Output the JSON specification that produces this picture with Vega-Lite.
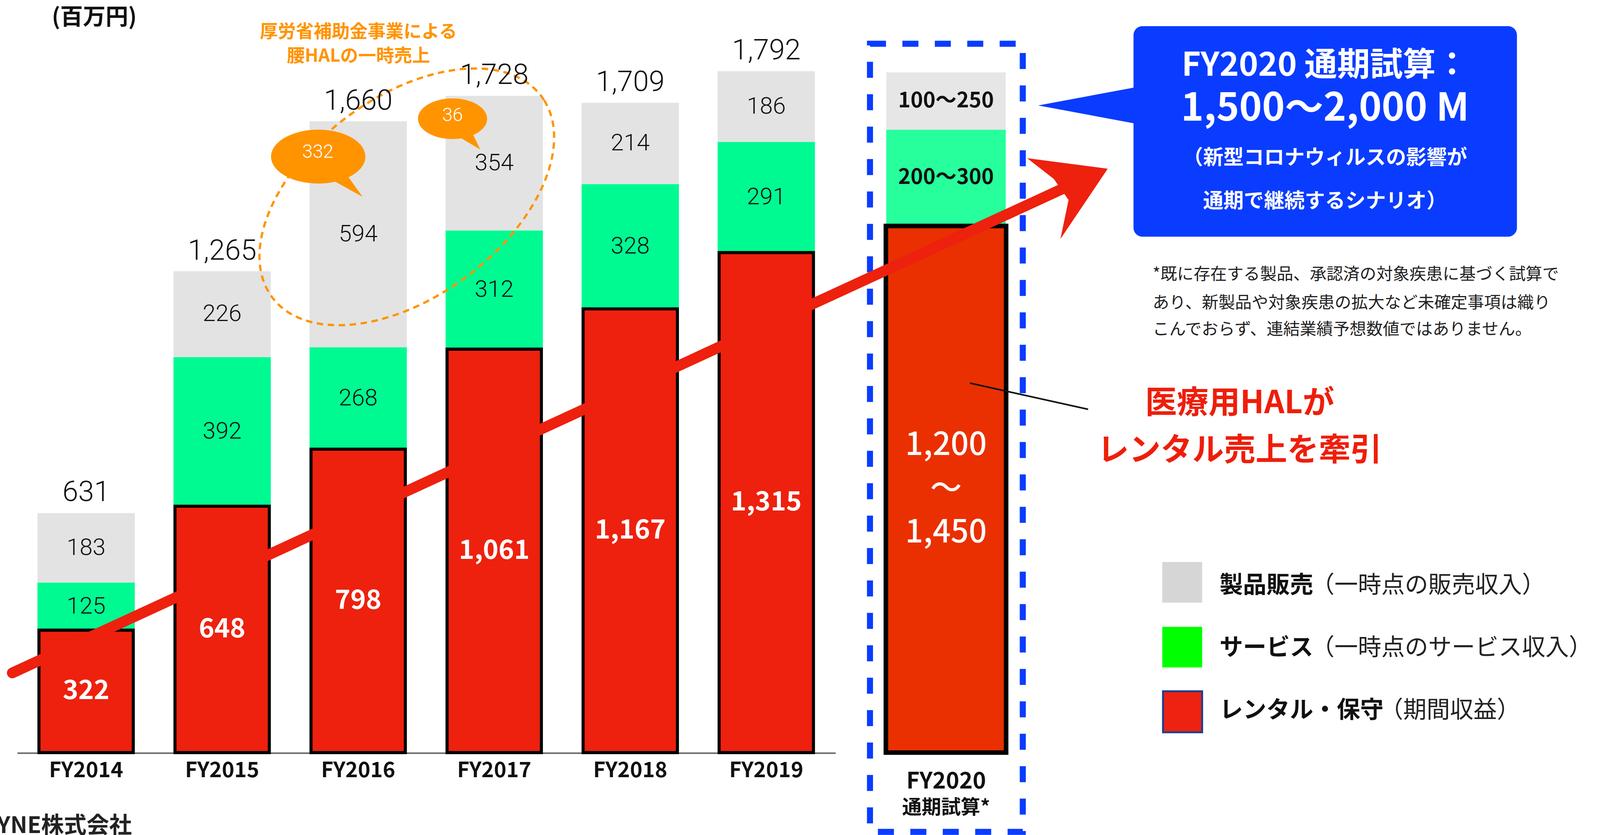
{
"$schema":"https://vega.github.io/schema/vega-lite/v6.json",
"width":4100,"height":2138,"autosize":{"type":"none"},"padding":0,"background":"white",
"config":{"view":{"stroke":null},"font":"Noto Sans CJK JP","axis":{"disable":true},"legend":{"disable":true}},
"datasets":{
"segments":[
{"fy":2014,"year":"FY2014","segment":"レンタル・保守","order":1,"value":322,"label":"322"},
{"fy":2014,"year":"FY2014","segment":"サービス","order":2,"value":125,"label":"125"},
{"fy":2014,"year":"FY2014","segment":"製品販売","order":3,"value":183,"label":"183"},
{"fy":2015,"year":"FY2015","segment":"レンタル・保守","order":1,"value":648,"label":"648"},
{"fy":2015,"year":"FY2015","segment":"サービス","order":2,"value":392,"label":"392"},
{"fy":2015,"year":"FY2015","segment":"製品販売","order":3,"value":226,"label":"226"},
{"fy":2016,"year":"FY2016","segment":"レンタル・保守","order":1,"value":798,"label":"798"},
{"fy":2016,"year":"FY2016","segment":"サービス","order":2,"value":268,"label":"268"},
{"fy":2016,"year":"FY2016","segment":"製品販売","order":3,"value":594,"label":"594"},
{"fy":2017,"year":"FY2017","segment":"レンタル・保守","order":1,"value":1061,"label":"1,061"},
{"fy":2017,"year":"FY2017","segment":"サービス","order":2,"value":312,"label":"312"},
{"fy":2017,"year":"FY2017","segment":"製品販売","order":3,"value":354,"label":"354"},
{"fy":2018,"year":"FY2018","segment":"レンタル・保守","order":1,"value":1167,"label":"1,167"},
{"fy":2018,"year":"FY2018","segment":"サービス","order":2,"value":328,"label":"328"},
{"fy":2018,"year":"FY2018","segment":"製品販売","order":3,"value":214,"label":"214"},
{"fy":2019,"year":"FY2019","segment":"レンタル・保守","order":1,"value":1315,"label":"1,315"},
{"fy":2019,"year":"FY2019","segment":"サービス","order":2,"value":291,"label":"291"},
{"fy":2019,"year":"FY2019","segment":"製品販売","order":3,"value":186,"label":"186"},
{"fy":2020,"year":"FY2020","segment":"レンタル・保守","order":1,"value":1385,"label":"1,200\n〜\n1,450"},
{"fy":2020,"year":"FY2020","segment":"サービス","order":2,"value":253,"label":"200〜300"},
{"fy":2020,"year":"FY2020","segment":"製品販売","order":3,"value":151,"label":"100〜250"}
],
"totals":[
{"fy":2014,"year":"FY2014","total":631},
{"fy":2015,"year":"FY2015","total":1265},
{"fy":2016,"year":"FY2016","total":1660},
{"fy":2017,"year":"FY2017","total":1728},
{"fy":2018,"year":"FY2018","total":1709},
{"fy":2019,"year":"FY2019","total":1792}
]
},
"layer":[
{"data":{"values":[{}]},"mark":{"type":"rule","color":"#6b6b6b","strokeWidth":4},
 "encoding":{"x":{"datum":2013.4953,"type":"quantitative","scale":{"domain":[2013.3814,2025.1258],"nice":false,"zero":false}},"x2":{"datum":2019.51},"y":{"datum":-1.5,"type":"quantitative","scale":{"domain":[-216.73,1979.27],"nice":false,"zero":false}}}},
{"data":{"values":[{}]},"mark":{"type":"rect","fill":"transparent","stroke":"#0A3CFF","strokeWidth":15.5,"strokeDash":[41,42]},
 "encoding":{"x":{"datum":2019.7623,"type":"quantitative","scale":{"domain":[2013.3814,2025.1258],"nice":false,"zero":false}},"x2":{"datum":2020.8855},"y":{"datum":1864.23,"type":"quantitative","scale":{"domain":[-216.73,1979.27],"nice":false,"zero":false}},"y2":{"datum":-208.51}}},
{"data":{"name":"segments"},
 "transform":[{"stack":"value","groupby":["fy"],"sort":[{"field":"order","order":"ascending"}],"as":["v0","v1"]},{"filter":"datum.fy < 2020 && datum.order === 3"}],
 "mark":{"type":"bar","width":249.1,"color":"#E3E3E3"},
 "encoding":{"x":{"field":"fy","type":"quantitative","scale":{"domain":[2013.3814,2025.1258],"nice":false,"zero":false}},"y":{"field":"v0","type":"quantitative","scale":{"domain":[-216.73,1979.27],"nice":false,"zero":false}},"y2":{"field":"v1"}}},
{"data":{"name":"segments"},
 "transform":[{"stack":"value","groupby":["fy"],"sort":[{"field":"order","order":"ascending"}],"as":["v0","v1"]},{"filter":"datum.fy < 2020 && datum.order === 2"}],
 "mark":{"type":"bar","width":249.1,"color":"#00FA92"},
 "encoding":{"x":{"field":"fy","type":"quantitative","scale":{"domain":[2013.3814,2025.1258],"nice":false,"zero":false}},"y":{"field":"v0","type":"quantitative","scale":{"domain":[-216.73,1979.27],"nice":false,"zero":false}},"y2":{"field":"v1"}}},
{"data":{"name":"segments"},
 "transform":[{"stack":"value","groupby":["fy"],"sort":[{"field":"order","order":"ascending"}],"as":["v0","v1"]},{"filter":"datum.fy < 2020 && datum.order === 1"}],
 "mark":{"type":"bar","width":241.5,"fill":"#ED210E","stroke":"#000000","strokeWidth":7.8,"strokeJoin":"miter"},
 "encoding":{"x":{"field":"fy","type":"quantitative","scale":{"domain":[2013.3814,2025.1258],"nice":false,"zero":false}},"y":{"field":"v0","type":"quantitative","scale":{"domain":[-216.73,1979.27],"nice":false,"zero":false}},"y2":{"field":"v1"}}},
{"data":{"name":"segments"},
 "transform":[{"stack":"value","groupby":["fy"],"sort":[{"field":"order","order":"ascending"}],"as":["v0","v1"]},{"filter":"datum.fy === 2020 && datum.order === 3"}],
 "mark":{"type":"bar","width":305.9,"xOffset":111.8,"color":"#E6E6E6"},
 "encoding":{"x":{"field":"fy","type":"quantitative","scale":{"domain":[2013.3814,2025.1258],"nice":false,"zero":false}},"y":{"field":"v0","type":"quantitative","scale":{"domain":[-216.73,1979.27],"nice":false,"zero":false}},"y2":{"field":"v1"}}},
{"data":{"name":"segments"},
 "transform":[{"stack":"value","groupby":["fy"],"sort":[{"field":"order","order":"ascending"}],"as":["v0","v1"]},{"filter":"datum.fy === 2020 && datum.order === 2"}],
 "mark":{"type":"bar","width":305.9,"xOffset":111.8,"color":"#26FF9C"},
 "encoding":{"x":{"field":"fy","type":"quantitative","scale":{"domain":[2013.3814,2025.1258],"nice":false,"zero":false}},"y":{"field":"v0","type":"quantitative","scale":{"domain":[-216.73,1979.27],"nice":false,"zero":false}},"y2":{"field":"v1"}}},
{"data":{"name":"segments"},
 "transform":[{"stack":"value","groupby":["fy"],"sort":[{"field":"order","order":"ascending"}],"as":["v0","v1"]},{"filter":"datum.fy === 2020 && datum.order === 1"}],
 "mark":{"type":"bar","width":307.8,"xOffset":111.8,"fill":"#EA3000","stroke":"#000000","strokeWidth":11.7,"strokeJoin":"miter"},
 "encoding":{"x":{"field":"fy","type":"quantitative","scale":{"domain":[2013.3814,2025.1258],"nice":false,"zero":false}},"y":{"field":"v0","type":"quantitative","scale":{"domain":[-216.73,1979.27],"nice":false,"zero":false}},"y2":{"field":"v1"}}},
{"data":{"values":[{}]},"mark":{"type":"point","shape":"M0.788,-0.5548 C0.9572,-0.2869 0.7415,0.1787 0.3063,0.4851 C-0.1289,0.7915 -0.6188,0.8227 -0.788,0.5548 C-0.9572,0.2869 -0.7415,-0.1787 -0.3063,-0.4851 C0.1289,-0.7915 0.6188,-0.8227 0.788,-0.5548 Z","size":795664,"filled":false,"stroke":"#FF9400","strokeWidth":5.8,"strokeDash":[16.5,11.7],"opacity":1},
 "encoding":{"x":{"datum":2016.3575,"type":"quantitative","scale":{"domain":[2013.3814,2025.1258],"nice":false,"zero":false}},"y":{"datum":1461.6,"type":"quantitative","scale":{"domain":[-216.73,1979.27],"nice":false,"zero":false}}}},
{"data":{"values":[{}]},"mark":{"type":"rule","color":"#ED210E","strokeWidth":27.5,"strokeCap":"round"},
 "encoding":{"x":{"datum":2013.4574,"type":"quantitative","scale":{"domain":[2013.3814,2025.1258],"nice":false,"zero":false}},"x2":{"datum":2021.1676},"y":{"datum":209.53,"type":"quantitative","scale":{"domain":[-216.73,1979.27],"nice":false,"zero":false}},"y2":{"datum":1481.11}}},
{"data":{"values":[{}]},"mark":{"type":"point","shape":"M0.86,-0.633 L-0.86,-0.858 L-0.292,-0.417 L0.024,0.033 L-0.15,0.867 Z","size":57600,"filled":true,"color":"#ED210E","opacity":1},
 "encoding":{"x":{"datum":2021.2138,"type":"quantitative","scale":{"domain":[2013.3814,2025.1258],"nice":false,"zero":false}},"y":{"datum":1457.49,"type":"quantitative","scale":{"domain":[-216.73,1979.27],"nice":false,"zero":false}}}},
{"data":{"name":"segments"},
 "transform":[{"stack":"value","groupby":["fy"],"sort":[{"field":"order","order":"ascending"}],"as":["v0","v1"]},{"fold":["v0","v1"],"as":["edge","pos"]},{"aggregate":[{"op":"mean","field":"pos","as":"mid"}],"groupby":["fy","order","label"]},{"filter":"datum.fy < 2020 && datum.order !== 1"}],
 "mark":{"type":"text","font":"Roboto","fontSize":60,"fontWeight":300,"color":"#111111","align":"center","baseline":"middle"},
 "encoding":{"x":{"field":"fy","type":"quantitative","scale":{"domain":[2013.3814,2025.1258],"nice":false,"zero":false}},"y":{"field":"mid","type":"quantitative","scale":{"domain":[-216.73,1979.27],"nice":false,"zero":false}},"text":{"field":"label"}}},
{"data":{"name":"segments"},
 "transform":[{"stack":"value","groupby":["fy"],"sort":[{"field":"order","order":"ascending"}],"as":["v0","v1"]},{"fold":["v0","v1"],"as":["edge","pos"]},{"aggregate":[{"op":"mean","field":"pos","as":"mid"}],"groupby":["fy","order","label"]},{"filter":"datum.fy < 2020 && datum.order === 1"}],
 "mark":{"type":"text","fontSize":67.5,"fontWeight":"bold","color":"#FFFFFF","align":"center","baseline":"middle"},
 "encoding":{"x":{"field":"fy","type":"quantitative","scale":{"domain":[2013.3814,2025.1258],"nice":false,"zero":false}},"y":{"field":"mid","type":"quantitative","scale":{"domain":[-216.73,1979.27],"nice":false,"zero":false}},"text":{"field":"label"}}},
{"data":{"name":"segments"},
 "transform":[{"stack":"value","groupby":["fy"],"sort":[{"field":"order","order":"ascending"}],"as":["v0","v1"]},{"fold":["v0","v1"],"as":["edge","pos"]},{"aggregate":[{"op":"mean","field":"pos","as":"mid"}],"groupby":["fy","order","label"]},{"filter":"datum.fy === 2020 && datum.order !== 1"}],
 "mark":{"type":"text","fontSize":54,"fontWeight":"bold","color":"#111111","align":"center","baseline":"middle","xOffset":111.8},
 "encoding":{"x":{"field":"fy","type":"quantitative","scale":{"domain":[2013.3814,2025.1258],"nice":false,"zero":false}},"y":{"field":"mid","type":"quantitative","scale":{"domain":[-216.73,1979.27],"nice":false,"zero":false}},"text":{"field":"label"}}},
{"data":{"name":"segments"},
 "transform":[{"stack":"value","groupby":["fy"],"sort":[{"field":"order","order":"ascending"}],"as":["v0","v1"]},{"fold":["v0","v1"],"as":["edge","pos"]},{"aggregate":[{"op":"mean","field":"pos","as":"mid"}],"groupby":["fy","order","label"]},{"filter":"datum.fy === 2020 && datum.order === 1"}],
 "mark":{"type":"text","fontSize":81,"fontWeight":500,"color":"#FFFFFF","align":"center","baseline":"middle","xOffset":111.8,"dy":-112,"lineBreak":"\n","lineHeight":112},
 "encoding":{"x":{"field":"fy","type":"quantitative","scale":{"domain":[2013.3814,2025.1258],"nice":false,"zero":false}},"y":{"field":"mid","type":"quantitative","scale":{"domain":[-216.73,1979.27],"nice":false,"zero":false}},"text":{"field":"label"}}},
{"data":{"name":"totals"},
 "mark":{"type":"text","font":"Roboto","fontSize":73,"fontWeight":300,"color":"#111111","align":"center","baseline":"alphabetic","dy":-30},
 "encoding":{"x":{"field":"fy","type":"quantitative","scale":{"domain":[2013.3814,2025.1258],"nice":false,"zero":false}},"y":{"field":"total","type":"quantitative","scale":{"domain":[-216.73,1979.27],"nice":false,"zero":false}},"text":{"field":"total","type":"quantitative","format":","}}},
{"data":{"name":"totals"},
 "mark":{"type":"text","fontSize":54,"fontWeight":"bold","color":"#111111","align":"center","baseline":"middle"},
 "encoding":{"x":{"field":"fy","type":"quantitative","scale":{"domain":[2013.3814,2025.1258],"nice":false,"zero":false}},"y":{"datum":-48.28,"type":"quantitative","scale":{"domain":[-216.73,1979.27],"nice":false,"zero":false}},"text":{"field":"year"}}},
{"data":{"values":[{}]},"mark":{"type":"text","text":"FY2020","fontSize":58,"fontWeight":"bold","color":"#111111","align":"center","baseline":"middle"},
 "encoding":{"x":{"datum":2020.3226,"type":"quantitative","scale":{"domain":[2013.3814,2025.1258],"nice":false,"zero":false}},"y":{"datum":-77,"type":"quantitative","scale":{"domain":[-216.73,1979.27],"nice":false,"zero":false}}}},
{"data":{"values":[{}]},"mark":{"type":"text","text":"通期試算*","fontSize":50,"fontWeight":"bold","color":"#111111","align":"center","baseline":"middle"},
 "encoding":{"x":{"datum":2020.3226,"type":"quantitative","scale":{"domain":[2013.3814,2025.1258],"nice":false,"zero":false}},"y":{"datum":-145.5,"type":"quantitative","scale":{"domain":[-216.73,1979.27],"nice":false,"zero":false}}}},
{"data":{"values":[{}]},"mark":{"type":"point","shape":"M0.9471,0 C0.9471,0.2988 0.5231,0.541 0,0.541 C-0.5231,0.541 -0.9471,0.2988 -0.9471,0 C-0.9471,-0.2988 -0.5231,-0.541 0,-0.541 C0.5231,-0.541 0.9471,-0.2988 0.9471,0 Z M0.284,0.47 L0.578,0.37 L0.891,0.808 Z","size":65025,"filled":true,"color":"#FF9400","opacity":1},
 "encoding":{"x":{"datum":2015.7064,"type":"quantitative","scale":{"domain":[2013.3814,2025.1258],"nice":false,"zero":false}},"y":{"datum":1567.39,"type":"quantitative","scale":{"domain":[-216.73,1979.27],"nice":false,"zero":false}}}},
{"data":{"values":[{}]},"mark":{"type":"point","shape":"M0.9471,0 C0.9471,0.3071 0.5231,0.556 0,0.556 C-0.5231,0.556 -0.9471,0.3071 -0.9471,0 C-0.9471,-0.3071 -0.5231,-0.556 0,-0.556 C0.5231,-0.556 0.9471,-0.3071 0.9471,0 Z M0.18,0.50 L0.54,0.39 L0.76,0.845 Z","size":34969,"filled":true,"color":"#FF9400","opacity":1},
 "encoding":{"x":{"datum":2016.6939,"type":"quantitative","scale":{"domain":[2013.3814,2025.1258],"nice":false,"zero":false}},"y":{"datum":1667.02,"type":"quantitative","scale":{"domain":[-216.73,1979.27],"nice":false,"zero":false}}}},
{"data":{"values":[{}]},"mark":{"type":"text","text":"332","font":"Roboto","fontSize":48,"fontWeight":300,"color":"#FFFFFF","align":"center","baseline":"middle"},
 "encoding":{"x":{"datum":2015.7037,"type":"quantitative","scale":{"domain":[2013.3814,2025.1258],"nice":false,"zero":false}},"y":{"datum":1578.69,"type":"quantitative","scale":{"domain":[-216.73,1979.27],"nice":false,"zero":false}}}},
{"data":{"values":[{}]},"mark":{"type":"text","text":"36","font":"Roboto","fontSize":48,"fontWeight":300,"color":"#FFFFFF","align":"center","baseline":"middle"},
 "encoding":{"x":{"datum":2016.6939,"type":"quantitative","scale":{"domain":[2013.3814,2025.1258],"nice":false,"zero":false}},"y":{"datum":1675.24,"type":"quantitative","scale":{"domain":[-216.73,1979.27],"nice":false,"zero":false}}}},
{"data":{"values":[{}]},"mark":{"type":"rect","color":"#0A3CFF","cornerRadius":23},
 "encoding":{"x":{"datum":2021.6994,"type":"quantitative","scale":{"domain":[2013.3814,2025.1258],"nice":false,"zero":false}},"x2":{"datum":2024.5181},"y":{"datum":1910.45,"type":"quantitative","scale":{"domain":[-216.73,1979.27],"nice":false,"zero":false}},"y2":{"datum":1356.83}}},
{"data":{"values":[{}]},"mark":{"type":"point","shape":"M-0.9471,0 L1.09,-0.38 L1.09,0.38 Z","size":66564,"filled":true,"color":"#0A3CFF","opacity":1},
 "encoding":{"x":{"datum":2021.3494,"type":"quantitative","scale":{"domain":[2013.3814,2025.1258],"nice":false,"zero":false}},"y":{"datum":1701.95,"type":"quantitative","scale":{"domain":[-216.73,1979.27],"nice":false,"zero":false}}}},
{"data":{"values":[{}]},"mark":{"type":"text","text":"FY2020 通期試算：","fontSize":84,"fontWeight":"bold","color":"#FFFFFF","align":"center","baseline":"middle"},
 "encoding":{"x":{"datum":2023.1074,"type":"quantitative","scale":{"domain":[2013.3814,2025.1258],"nice":false,"zero":false}},"y":{"datum":1805.5,"type":"quantitative","scale":{"domain":[-216.73,1979.27],"nice":false,"zero":false}}}},
{"data":{"values":[{}]},"mark":{"type":"text","text":"1,500〜2,000 M","fontSize":99,"fontWeight":"bold","color":"#FFFFFF","align":"center","baseline":"middle"},
 "encoding":{"x":{"datum":2023.1074,"type":"quantitative","scale":{"domain":[2013.3814,2025.1258],"nice":false,"zero":false}},"y":{"datum":1692.5,"type":"quantitative","scale":{"domain":[-216.73,1979.27],"nice":false,"zero":false}}}},
{"data":{"values":[{}]},"mark":{"type":"text","text":"（新型コロナウィルスの影響が","fontSize":52,"fontWeight":"bold","color":"#FFFFFF","align":"center","baseline":"middle"},
 "encoding":{"x":{"datum":2023.1074,"type":"quantitative","scale":{"domain":[2013.3814,2025.1258],"nice":false,"zero":false}},"y":{"datum":1563.28,"type":"quantitative","scale":{"domain":[-216.73,1979.27],"nice":false,"zero":false}}}},
{"data":{"values":[{}]},"mark":{"type":"text","text":"通期で継続するシナリオ）","fontSize":52,"fontWeight":"bold","color":"#FFFFFF","align":"center","baseline":"middle"},
 "encoding":{"x":{"datum":2023.1074,"type":"quantitative","scale":{"domain":[2013.3814,2025.1258],"nice":false,"zero":false}},"y":{"datum":1449.27,"type":"quantitative","scale":{"domain":[-216.73,1979.27],"nice":false,"zero":false}}}},
{"data":{"values":[{}]},"mark":{"type":"text","text":"*既に存在する製品、承認済の対象疾患に基づく試算で","fontSize":42.5,"color":"#222222","align":"left","baseline":"middle"},
 "encoding":{"x":{"datum":2021.8404,"type":"quantitative","scale":{"domain":[2013.3814,2025.1258],"nice":false,"zero":false}},"y":{"datum":1257.2,"type":"quantitative","scale":{"domain":[-216.73,1979.27],"nice":false,"zero":false}}}},
{"data":{"values":[{}]},"mark":{"type":"text","text":"あり、新製品や対象疾患の拡大など未確定事項は織り","fontSize":42.5,"color":"#222222","align":"left","baseline":"middle"},
 "encoding":{"x":{"datum":2021.8404,"type":"quantitative","scale":{"domain":[2013.3814,2025.1258],"nice":false,"zero":false}},"y":{"datum":1182.22,"type":"quantitative","scale":{"domain":[-216.73,1979.27],"nice":false,"zero":false}}}},
{"data":{"values":[{}]},"mark":{"type":"text","text":"こんでおらず、連結業績予想数値ではありません。","fontSize":42.5,"color":"#222222","align":"left","baseline":"middle"},
 "encoding":{"x":{"datum":2021.8404,"type":"quantitative","scale":{"domain":[2013.3814,2025.1258],"nice":false,"zero":false}},"y":{"datum":1112.38,"type":"quantitative","scale":{"domain":[-216.73,1979.27],"nice":false,"zero":false}}}},
{"data":{"values":[{}]},"mark":{"type":"rule","color":"#111111","strokeWidth":4},
 "encoding":{"x":{"datum":2020.4975,"type":"quantitative","scale":{"domain":[2013.3814,2025.1258],"nice":false,"zero":false}},"x2":{"datum":2021.3657},"y":{"datum":971.66,"type":"quantitative","scale":{"domain":[-216.73,1979.27],"nice":false,"zero":false}},"y2":{"datum":902.84}}},
{"data":{"values":[{}]},"mark":{"type":"text","text":"医療用HALが","fontSize":81,"fontWeight":"bold","color":"#EE1E0A","align":"center","baseline":"middle"},
 "encoding":{"x":{"datum":2022.4807,"type":"quantitative","scale":{"domain":[2013.3814,2025.1258],"nice":false,"zero":false}},"y":{"datum":917.22,"type":"quantitative","scale":{"domain":[-216.73,1979.27],"nice":false,"zero":false}}}},
{"data":{"values":[{}]},"mark":{"type":"text","text":"レンタル売上を牽引","fontSize":81,"fontWeight":"bold","color":"#EE1E0A","align":"center","baseline":"middle"},
 "encoding":{"x":{"datum":2022.4807,"type":"quantitative","scale":{"domain":[2013.3814,2025.1258],"nice":false,"zero":false}},"y":{"datum":792.94,"type":"quantitative","scale":{"domain":[-216.73,1979.27],"nice":false,"zero":false}}}},
{"data":{"values":[{}]},"mark":{"type":"rect","color":"#D6D6D6"},
 "encoding":{"x":{"datum":2021.911,"type":"quantitative","scale":{"domain":[2013.3814,2025.1258],"nice":false,"zero":false}},"x2":{"datum":2022.204},"y":{"datum":501.24,"type":"quantitative","scale":{"domain":[-216.73,1979.27],"nice":false,"zero":false}},"y2":{"datum":394.41}}},
{"data":{"values":[{}]},"mark":{"type":"rect","color":"#00FF00"},
 "encoding":{"x":{"datum":2021.911,"type":"quantitative","scale":{"domain":[2013.3814,2025.1258],"nice":false,"zero":false}},"x2":{"datum":2022.204},"y":{"datum":330.73,"type":"quantitative","scale":{"domain":[-216.73,1979.27],"nice":false,"zero":false}},"y2":{"datum":223.91}}},
{"data":{"values":[{}]},"mark":{"type":"rect","fill":"#EE2211","stroke":"#1F3F8F","strokeWidth":5},
 "encoding":{"x":{"datum":2021.9164,"type":"quantitative","scale":{"domain":[2013.3814,2025.1258],"nice":false,"zero":false}},"x2":{"datum":2022.204},"y":{"datum":161.26,"type":"quantitative","scale":{"domain":[-216.73,1979.27],"nice":false,"zero":false}},"y2":{"datum":53.41}}},
{"data":{"values":[{}]},"mark":{"type":"text","text":"製品販売","fontSize":60,"fontWeight":"bold","color":"#111111","align":"left","baseline":"middle"},
 "encoding":{"x":{"datum":2022.3315,"type":"quantitative","scale":{"domain":[2013.3814,2025.1258],"nice":false,"zero":false}},"y":{"datum":438.58,"type":"quantitative","scale":{"domain":[-216.73,1979.27],"nice":false,"zero":false}}}},
{"data":{"values":[{}]},"mark":{"type":"text","text":"（一時点の販売収入）","fontSize":60,"color":"#222222","align":"left","baseline":"middle"},
 "encoding":{"x":{"datum":2023.0043,"type":"quantitative","scale":{"domain":[2013.3814,2025.1258],"nice":false,"zero":false}},"y":{"datum":438.58,"type":"quantitative","scale":{"domain":[-216.73,1979.27],"nice":false,"zero":false}}}},
{"data":{"values":[{}]},"mark":{"type":"text","text":"サービス","fontSize":60,"fontWeight":"bold","color":"#111111","align":"left","baseline":"middle"},
 "encoding":{"x":{"datum":2022.3315,"type":"quantitative","scale":{"domain":[2013.3814,2025.1258],"nice":false,"zero":false}},"y":{"datum":274.24,"type":"quantitative","scale":{"domain":[-216.73,1979.27],"nice":false,"zero":false}}}},
{"data":{"values":[{}]},"mark":{"type":"text","text":"（一時点のサービス収入）","fontSize":60,"color":"#222222","align":"left","baseline":"middle"},
 "encoding":{"x":{"datum":2023.0043,"type":"quantitative","scale":{"domain":[2013.3814,2025.1258],"nice":false,"zero":false}},"y":{"datum":274.24,"type":"quantitative","scale":{"domain":[-216.73,1979.27],"nice":false,"zero":false}}}},
{"data":{"values":[{}]},"mark":{"type":"text","text":"レンタル・保守","fontSize":60,"fontWeight":"bold","color":"#111111","align":"left","baseline":"middle"},
 "encoding":{"x":{"datum":2022.3315,"type":"quantitative","scale":{"domain":[2013.3814,2025.1258],"nice":false,"zero":false}},"y":{"datum":109.9,"type":"quantitative","scale":{"domain":[-216.73,1979.27],"nice":false,"zero":false}}}},
{"data":{"values":[{}]},"mark":{"type":"text","text":"（期間収益）","fontSize":60,"color":"#222222","align":"left","baseline":"middle"},
 "encoding":{"x":{"datum":2023.5089,"type":"quantitative","scale":{"domain":[2013.3814,2025.1258],"nice":false,"zero":false}},"y":{"datum":109.9,"type":"quantitative","scale":{"domain":[-216.73,1979.27],"nice":false,"zero":false}}}},
{"data":{"values":[{}]},"mark":{"type":"text","text":"CYBERDYNE株式会社","fontSize":58,"fontWeight":"bold","color":"#222222","align":"right","baseline":"middle"},
 "encoding":{"x":{"datum":2014.3364,"type":"quantitative","scale":{"domain":[2013.3814,2025.1258],"nice":false,"zero":false}},"y":{"datum":-194.13,"type":"quantitative","scale":{"domain":[-216.73,1979.27],"nice":false,"zero":false}}}},
{"data":{"values":[{}]},"mark":{"type":"text","text":"(百万円)","fontSize":58,"fontWeight":"bold","color":"#111111","align":"center","baseline":"middle"},
 "encoding":{"x":{"datum":2014.06,"type":"quantitative","scale":{"domain":[2013.3814,2025.1258],"nice":false,"zero":false}},"y":{"datum":1932,"type":"quantitative","scale":{"domain":[-216.73,1979.27],"nice":false,"zero":false}}}},
{"data":{"values":[{}]},"mark":{"type":"text","text":"厚労省補助金事業による","fontSize":46,"fontWeight":"bold","color":"#FF9400","align":"center","baseline":"middle"},
 "encoding":{"x":{"datum":2016.0021,"type":"quantitative","scale":{"domain":[2013.3814,2025.1258],"nice":false,"zero":false}},"y":{"datum":1895.05,"type":"quantitative","scale":{"domain":[-216.73,1979.27],"nice":false,"zero":false}}}},
{"data":{"values":[{}]},"mark":{"type":"text","text":"腰HALの一時売上","fontSize":46,"fontWeight":"bold","color":"#FF9400","align":"center","baseline":"middle"},
 "encoding":{"x":{"datum":2016.0021,"type":"quantitative","scale":{"domain":[2013.3814,2025.1258],"nice":false,"zero":false}},"y":{"datum":1831.36,"type":"quantitative","scale":{"domain":[-216.73,1979.27],"nice":false,"zero":false}}}}
]
}
